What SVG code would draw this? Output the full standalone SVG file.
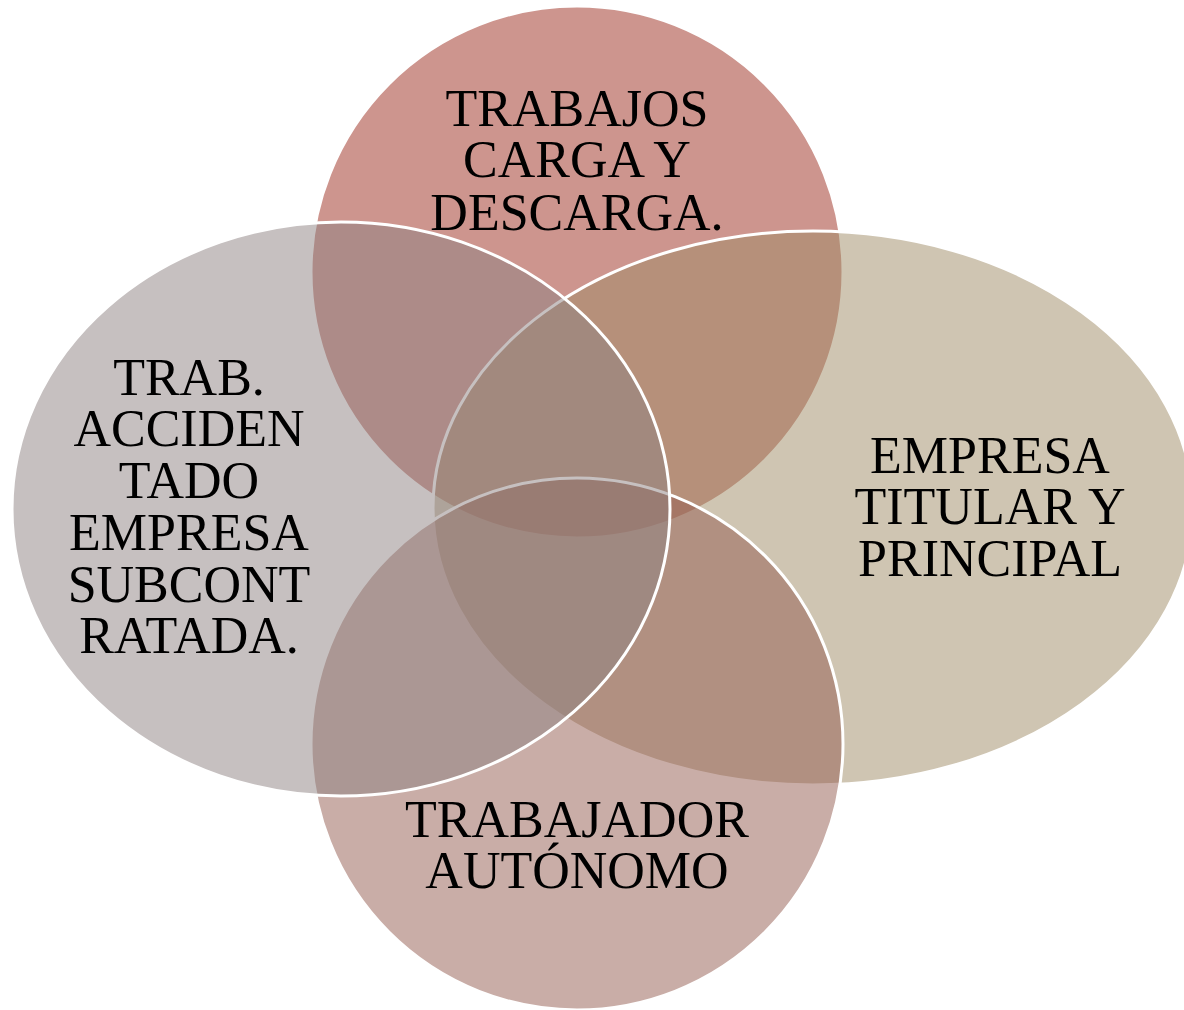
<svg xmlns="http://www.w3.org/2000/svg" width="1184" height="1010" viewBox="0 0 1184 1010">
<style>
.sh{fill-opacity:0.5;stroke:#ffffff;stroke-width:3}
.t{font-family:"Liberation Serif","Times New Roman",serif;font-size:52px;fill:#000000;text-anchor:middle}
</style>
<rect x="0" y="0" width="1184" height="1010" fill="#ffffff"/>
<g id="top">
<circle class="sh" cx="577" cy="272" r="266" fill="#9b2b1d"/>
</g>
<g id="right">
<ellipse class="sh" cx="813" cy="508" rx="380" ry="277" fill="#9f8b65"/>
</g>
<g id="bottom">
<circle class="sh" cx="577" cy="744" r="266" fill="#935b4f"/>
</g>
<g id="left">
<ellipse class="sh" cx="341" cy="509" rx="329" ry="287" fill="#8d8181"/>
</g>
<g id="labels">
<text class="t" x="577" y="126">TRABAJOS</text>
<text class="t" x="577" y="177">CARGA Y</text>
<text class="t" x="577" y="230">DESCARGA.</text>
<text class="t" x="189" y="395">TRAB.</text>
<text class="t" x="189" y="446">ACCIDEN</text>
<text class="t" x="189" y="498">TADO</text>
<text class="t" x="189" y="550">EMPRESA</text>
<text class="t" x="189" y="602">SUBCONT</text>
<text class="t" x="189" y="653">RATADA.</text>
<text class="t" x="990" y="473">EMPRESA</text>
<text class="t" x="990" y="524">TITULAR Y</text>
<text class="t" x="990" y="576">PRINCIPAL</text>
<text class="t" x="577" y="837">TRABAJADOR</text>
<text class="t" x="577" y="888">AUTÓNOMO</text>
</g>
<g id="connectors"></g>
</svg>
